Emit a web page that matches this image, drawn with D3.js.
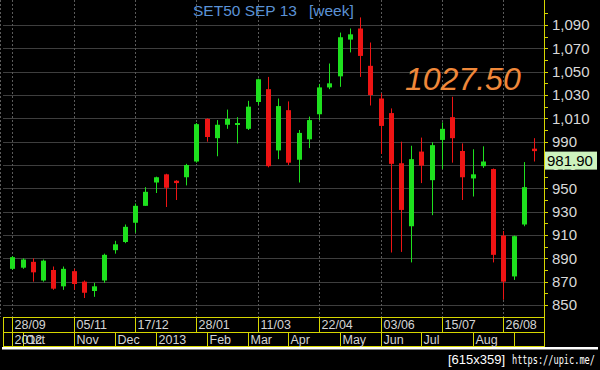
<!DOCTYPE html>
<meta charset="utf-8">
<style>
body { margin: 0; background: #000; }
svg { display: block; }
text { font-family: "Liberation Sans", Arial, sans-serif; }
.narrow { font-family: "Liberation Sans Narrow", "Arial Narrow", "Liberation Sans", sans-serif; }
</style>
<svg width="600" height="370"></svg>
<script src="https://cdn.jsdelivr.net/npm/d3@7/dist/d3.min.js"></script>
<script>

// weekly OHLC, SET50 SEP 13 futures
var open  = [881, 882, 887, 871, 880, 866, 879, 870, 862, 871, 897, 904, 920.5, 935, 955, 962, 956.5, 959.5, 973, 1009.5,
             993, 1004.5, 1004.5, 1001, 1024, 1035, 982.5, 1017, 974.5, 992, 1013.5, 1036.5, 1046, 1077.5, 1087, 1055, 1027, 1014.5, 971.5, 917.5,
             981.5, 957, 991.5, 1011, 982, 958.5, 969, 966.5, 909.5, 874.5, 919, 984];
var high  = [892, 890, 890, 889, 883, 883, 881, 871, 869, 894, 905, 919, 937, 951, 960, 962.5, 957, 971, 1006, 1010,
             1008.5, 1017.5, 1011, 1025, 1044, 1045.5, 1027, 1024.5, 1000, 1011.5, 1039.5, 1057, 1083.5, 1087, 1096.5, 1075, 1031.5, 1018.5, 990, 986.5,
             993.5, 989.5, 1006.5, 1028.5, 988.5, 983.5, 986, 967, 913.5, 909.5, 972.5, 993];
var low   = [880, 881, 870, 870, 863, 863, 863, 856, 857, 869, 894, 903, 912, 935, 946, 934, 940, 952.5, 972, 990,
             977.5, 1001, 988.5, 1000, 1021.5, 968, 975, 970, 955, 984.5, 1008.5, 1035, 1037, 1066.5, 1045.5, 1021, 979.5, 895, 895.5, 886.5,
             954.5, 927, 966.5, 972, 940, 943, 967.5, 886.5, 854.5, 871.5, 917.5, 973];
var close = [891, 889, 878, 888, 864, 881, 868, 860.5, 866, 893, 902, 917, 935, 947, 959.5, 950.5, 954.5, 970, 1005, 994,
             1004.5, 1009.5, 1006, 1020, 1043.5, 969, 1020.5, 972, 997.5, 1008.5, 1036.5, 1040, 1079.5, 1082, 1063.5, 1030, 1003.5, 971, 931.5, 975,
             969.5, 987, 1001, 993, 959.5, 962, 973, 893, 870, 909, 951, 981.9];

var weekLabels = ["28/09", "05/11", "17/12", "28/01", "11/03", "22/04", "03/06", "15/07", "26/08"];
var weekIndex  = [0, 6, 12, 18, 24, 30, 36, 42, 48];
var monthLabels = ["2012", "Oct", "Nov", "Dec", "2013", "Feb", "Mar", "Apr", "May", "Jun", "Jul", "Aug", ""];
var monthIndex  = [0, 1, 6, 10, 14, 19, 23, 27, 32, 36, 40, 45, 49];
var priceTicks = d3.range(850, 1091, 20);

var svg = d3.select("svg");
var left = 3, right = 544, plotBottom = 317;
var yellow = "#d6d600";

var x = d3.scaleLinear().domain([0, 48]).range([12.3, 503.3]);
var y = d3.scaleLinear().domain([850, 1090]).range([305, 25]);

svg.append("rect").attr("width", 600).attr("height", 370).attr("fill", "#000");

// horizontal grid
svg.append("g").selectAll("line")
    .data(priceTicks)
  .enter().append("line")
    .attr("x1", left).attr("x2", right)
    .attr("y1", function(d) { return Math.round(y(d)) + 0.5; })
    .attr("y2", function(d) { return Math.round(y(d)) + 0.5; })
    .attr("stroke", "#3e3e3e");

// vertical dotted grid
svg.append("g").selectAll("line")
    .data([-1.2].concat(weekIndex))
  .enter().append("line")
    .attr("x1", function(d) { return Math.round(x(d)) + 0.5; })
    .attr("x2", function(d) { return Math.round(x(d)) + 0.5; })
    .attr("y1", 0).attr("y2", plotBottom)
    .attr("stroke", "#5a5a5a")
    .attr("stroke-dasharray", "2,2");

// title
svg.append("text").attr("x", 193).attr("y", 16)
    .attr("fill", "#5b92d6").style("font-size", "15.5px")
    .text("SET50 SEP 13");
svg.append("text").attr("x", 309).attr("y", 16)
    .attr("fill", "#5b92d6").style("font-size", "15.5px")
    .text("[week]");

svg.append("text").attr("x", 405).attr("y", 90)
    .attr("fill", "#f0883a").style("font-size", "32px").style("font-style", "italic")
    .text("1027.50");

// candles
var bars = d3.range(open.length);
var up = function(i) { return close[i] >= open[i]; };
var col = function(i) { return up(i) ? "#1ee01e" : "#ee1414"; };

var candle = svg.append("g").selectAll("g")
    .data(bars)
  .enter().append("g");

candle.append("line")
    .attr("x1", function(i) { return Math.round(x(i)) + 0.5; })
    .attr("x2", function(i) { return Math.round(x(i)) + 0.5; })
    .attr("y1", function(i) { return y(high[i]); })
    .attr("y2", function(i) { return y(low[i]); })
    .attr("stroke", col);

candle.append("rect")
    .attr("x", function(i) { return Math.round(x(i)) - 2; })
    .attr("width", 5)
    .attr("y", function(i) { return y(Math.max(open[i], close[i])); })
    .attr("height", function(i) { return Math.max(2, Math.abs(y(open[i]) - y(close[i]))); })
    .attr("fill", col);

// price axis
svg.append("line").attr("x1", right + 0.5).attr("x2", right + 0.5)
    .attr("y1", 0).attr("y2", 347).attr("stroke", yellow);

svg.append("g").selectAll("line")
    .data(d3.range(850, 1101, 10))
  .enter().append("line")
    .attr("x1", right).attr("x2", right + 4)
    .attr("y1", function(d) { return Math.round(y(d)) + 0.5; })
    .attr("y2", function(d) { return Math.round(y(d)) + 0.5; })
    .attr("stroke", yellow);

svg.append("g").selectAll("text")
    .data(priceTicks)
  .enter().append("text")
    .attr("x", 552)
    .attr("y", function(d) { return y(d); })
    .attr("dy", "0.36em")
    .attr("fill", "#d8d8d8")
    .style("font-size", "15px")
    .text(d3.format(","));

// last price box
var last = close[close.length - 1];
svg.append("rect").attr("x", 545).attr("y", y(last) + 0.5)
    .attr("width", 52).attr("height", 18).attr("fill", "#cdf3bd");
svg.append("text").attr("x", 547).attr("y", y(last) + 15)
    .attr("fill", "#000").style("font-size", "15px")
    .text(d3.format(".2f")(last));

// date axis
var dateAxis = svg.append("g").attr("stroke", yellow).attr("shape-rendering", "crispEdges");
[plotBottom, 332, 346].forEach(function(v) {
  dateAxis.append("line").attr("x1", left).attr("x2", right + 1).attr("y1", v + 0.5).attr("y2", v + 0.5);
});
dateAxis.append("line").attr("x1", left + 0.5).attr("x2", left + 0.5).attr("y1", plotBottom).attr("y2", 346);

weekIndex.forEach(function(d, k) {
  var xx = Math.round(x(d)) + 0.5;
  dateAxis.append("line").attr("x1", xx).attr("x2", xx).attr("y1", plotBottom).attr("y2", 332);
  svg.append("text").attr("class", "narrow").attr("x", xx + 2).attr("y", 328.5)
      .attr("fill", "#d4d4d4").style("font-size", "12.5px").text(weekLabels[k]);
});
monthIndex.forEach(function(d, k) {
  var xx = Math.round(x(d)) + 0.5;
  dateAxis.append("line").attr("x1", xx).attr("x2", xx).attr("y1", 332).attr("y2", 346);
  svg.append("text").attr("class", "narrow").attr("x", xx + 2).attr("y", 343.5)
      .attr("fill", "#d4d4d4").style("font-size", "12.5px").text(monthLabels[k]);
});

svg.append("rect").attr("x", 2).attr("y", 347).attr("width", 596).attr("height", 2.5).attr("fill", "#fff");

svg.append("text").attr("x", 448).attr("y", 364)
    .attr("fill", "#fff").style("font-size", "13px").text("[615x359]");
svg.append("text").attr("x", 512).attr("y", 364)
    .attr("fill", "#fff").style("font-size", "13px")
    .style("font-family", "'DejaVu Sans Mono', monospace")
    .attr("textLength", 83).attr("lengthAdjust", "spacingAndGlyphs")
    .text("https://upic.me/");

</script>
